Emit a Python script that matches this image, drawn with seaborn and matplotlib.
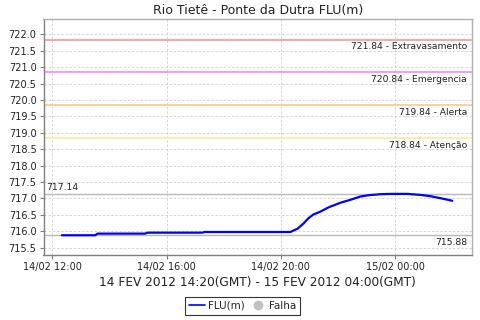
import matplotlib
matplotlib.use("Agg")
import matplotlib.pyplot as plt
import matplotlib.dates as mdates
from matplotlib.lines import Line2D
import seaborn as sns
import pandas as pd

times = ["2012-02-14 12:20", "2012-02-14 13:30", "2012-02-14 13:35", "2012-02-14 15:15",
         "2012-02-14 15:20", "2012-02-14 17:15", "2012-02-14 17:20", "2012-02-14 20:20",
         "2012-02-14 20:35", "2012-02-14 20:47", "2012-02-14 20:58", "2012-02-14 21:08",
         "2012-02-14 21:23", "2012-02-14 21:40", "2012-02-14 22:05", "2012-02-14 22:26",
         "2012-02-14 22:47", "2012-02-14 23:04", "2012-02-14 23:29", "2012-02-14 23:50",
         "2012-02-15 00:26", "2012-02-15 00:53", "2012-02-15 01:14", "2012-02-15 01:35",
         "2012-02-15 02:00"]
flu = [715.88, 715.88, 715.93, 715.93, 715.96, 715.96, 715.98, 715.98,
       716.08, 716.23, 716.40, 716.51, 716.60, 716.73, 716.87, 716.96,
       717.06, 717.10, 717.13, 717.14, 717.14, 717.11, 717.07, 717.01, 716.93]

thr_values = [721.84, 720.84, 719.84, 718.84]
thr_names = ["Extravasamento", "Emergencia", "Alerta", "Atenção"]
thr_colors = ["#F29A9A", "#F68AF2", "#F5C89A", "#F7EBA0"]
max_val = 717.14
min_val = 715.88

title = "Rio Tietê - Ponte da Dutra FLU(m)"
xlabel = "14 FEV 2012 14:20(GMT) - 15 FEV 2012 04:00(GMT)"
tick_times = ["2012-02-14 12:00", "2012-02-14 16:00", "2012-02-14 20:00", "2012-02-15 00:00"]
tick_labels = ["14/02 12:00", "14/02 16:00", "14/02 20:00", "15/02 00:00"]

sns.set_theme(style="white")
plt.rcParams['font.family'] = ['DejaVu Sans']

df = pd.DataFrame({"t": pd.to_datetime(times), "v": flu})

fig = plt.figure(figsize=(4.8, 3.2), dpi=100)
ax = fig.add_axes([43.5 / 480, 1 - 255.3 / 320, (472.3 - 43.5) / 480, (255.3 - 19.3) / 320])

ax.set_ylim(715.27, 722.457)
ax.set_xlim(pd.Timestamp("2012-02-14 11:41:30"), pd.Timestamp("2012-02-15 02:42:00"))

ax.set_yticks([715.5 + 0.5 * i for i in range(14)])
ax.yaxis.set_major_formatter(matplotlib.ticker.FormatStrFormatter("%.1f"))
ax.set_xticks(pd.to_datetime(tick_times))
ax.set_xticklabels(tick_labels)
ax.grid(True, color="#d0d0d0", linestyle=(0, (3, 2)), linewidth=0.6)
ax.set_axisbelow(True)

for v, n, c in zip(thr_values, thr_names, thr_colors):
    ax.axhline(v, color=c, linewidth=1.2, zorder=2)
    ax.text(0.988, v - 0.08, f"{v:.2f} - {n}", transform=ax.get_yaxis_transform(),
            ha="right", va="top", fontsize=6.6, color="#222222")
ax.axhline(max_val, color="#b8b8b8", linewidth=1.0, zorder=2)
ax.text(0.006, max_val + 0.06, f"{max_val:.2f}", transform=ax.get_yaxis_transform(),
        ha="left", va="bottom", fontsize=6.7, color="#222222")
ax.axhline(min_val, color="#b8b8b8", linewidth=1.0, zorder=2)
ax.text(0.988, min_val - 0.08, f"{min_val:.2f}", transform=ax.get_yaxis_transform(),
        ha="right", va="top", fontsize=6.7, color="#222222")

sns.lineplot(data=df, x="t", y="v", ax=ax, color="#0000FF", linewidth=1.6, zorder=3)

ax.set_title(title, fontsize=9, pad=4, color="#222222")
ax.set_xlabel(xlabel, fontsize=8.7, labelpad=3, color="#222222")
ax.set_ylabel("")

for s in ["left", "bottom"]:
    ax.spines[s].set_color("#808080")
    ax.spines[s].set_linewidth(1.0)
for s in ["top", "right"]:
    ax.spines[s].set_color("#b0b0b0")
    ax.spines[s].set_linewidth(1.0)
ax.tick_params(axis="both", which="major", length=3, width=0.8, color="#808080",
               labelsize=7.0, pad=2, labelcolor="#222222", left=True, bottom=True)

handles = [Line2D([0], [0], color="#0000FF", linewidth=1.2),
           Line2D([0], [0], marker="o", color="none", markerfacecolor="#c0c0c0",
                  markeredgecolor="#c0c0c0", markersize=6)]
leg = fig.legend(handles, ["FLU(m)", "Falha"], loc="center", bbox_to_anchor=(0.505, 1 - 306 / 320),
                 ncol=2, fontsize=7.5, frameon=True, fancybox=False, edgecolor="black",
                 handlelength=1.6, handletextpad=0.3, columnspacing=0.4, borderpad=0.35,
                 borderaxespad=0)
leg.get_frame().set_linewidth(0.8)

fig.savefig("out.png", dpi=100)
